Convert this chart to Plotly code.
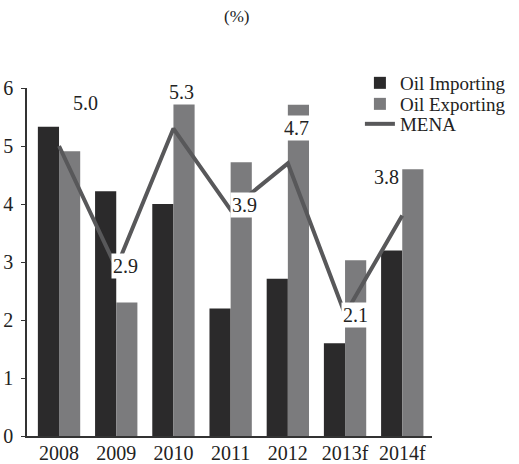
import plotly.graph_objects as go

years = ["2008", "2009", "2010", "2011", "2012", "2013f", "2014f"]
oil_importing = [5.33, 4.22, 4.0, 2.2, 2.71, 1.6, 3.2]
oil_exporting = [4.91, 2.3, 5.79, 4.72, 5.71, 3.03, 4.6]
mena = [5.0, 2.9, 5.3, 3.9, 4.7, 2.1, 3.8]

# label offsets (px) for the MENA values
label_dx = [26, 9, 8, 14, 9, 10, -16]
label_dy = [43, 2, 37, 5, 35, -1, 39]

FONT = "Liberation Serif, DejaVu Serif, serif"

fig = go.Figure()
fig.add_trace(go.Bar(x=years, y=oil_importing, name="Oil Importing",
                     legend="legend", showlegend=True,
                     marker=dict(color="#2b2a2b", line=dict(width=0))))
fig.add_trace(go.Bar(x=years, y=oil_exporting, name="Oil Exporting",
                     legend="legend2", showlegend=True,
                     marker=dict(color="#7b7b7d", line=dict(width=0))))
fig.add_trace(go.Scatter(x=years, y=mena, name="MENA", mode="lines",
                         legend="legend3", showlegend=True,
                         line=dict(color="#58585a", width=4)))

annotations = []
for i, (v, dx, dy) in enumerate(zip(mena, label_dx, label_dy)):
    annotations.append(dict(
        x=i, y=v, xref="x", yref="y", text=f"{v:.1f}", showarrow=False,
        xshift=dx, yshift=dy, bgcolor="white", borderpad=1,
        font=dict(family=FONT, size=20, color="#222")))

annotations.append(dict(
    x=(236 - 27) / 405, y=(436 - 5) / 348, xref="paper", yref="paper",
    text="(%)", showarrow=False, yanchor="top", xanchor="center",
    font=dict(family=FONT, size=17, color="#222")))


def legend_row(y):
    return dict(x=0.822, y=y, xanchor="left", yanchor="middle",
                bgcolor="rgba(0,0,0,0)", font=dict(family=FONT, size=19),
                itemwidth=30, visible=True)


fig.update_layout(
    width=519, height=464,
    margin=dict(l=27, r=87, t=88, b=28, autoexpand=False),
    paper_bgcolor="white", plot_bgcolor="white",
    showlegend=True,
    barmode="group", bargap=0.26, bargroupgap=0,
    font=dict(family=FONT, size=19, color="#222"),
    annotations=annotations,
    legend=legend_row(1.0144),
    legend2=legend_row(0.954),
    legend3=legend_row(0.8966),
    xaxis=dict(range=[-0.56, 6.52], showline=True, linecolor="#333", linewidth=1.5,
               ticks="", showgrid=False, tickfont=dict(family=FONT, size=20),
               ticklabelstandoff=-2, fixedrange=True, automargin=False),
    yaxis=dict(range=[0, 6], showline=True, linecolor="#333", linewidth=1.5,
               ticks="outside", ticklen=4, tickcolor="#333", dtick=1,
               showgrid=False, zeroline=False, ticklabelstandoff=4,
               tickfont=dict(family=FONT, size=20), fixedrange=True,
               automargin=False),
)

fig.write_html("out.html")
